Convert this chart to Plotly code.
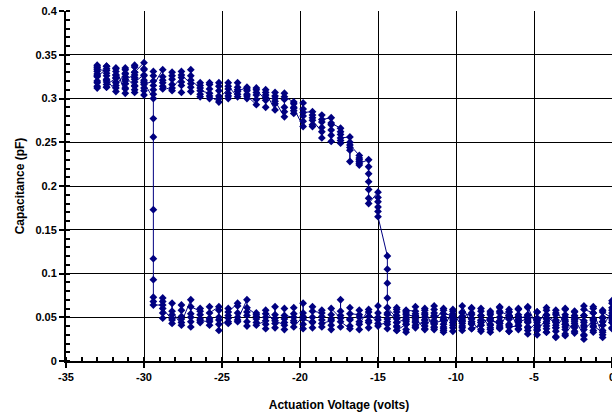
import plotly.graph_objects as go

# Sweep from 0 V down to -33 V (readings per voltage step, in fF)
down_volts = [0.0, -0.6, -1.2, -1.8, -2.4, -3.0, -3.6, -4.2, -4.8, -5.4, -6.0, -6.6, -7.2, -7.8,
              -8.4, -9.0, -9.6, -10.2, -10.8, -11.4, -12.0, -12.6, -13.2, -13.8, -14.4, -15.0,
              -15.6, -16.2, -16.8, -17.4, -18.0, -18.6, -19.2, -19.8, -20.4, -21.0, -21.6, -22.2,
              -22.8, -23.4, -24.0, -24.6, -25.2, -25.8, -26.4, -27.0, -27.6, -28.2, -28.8, -29.4,
              -30.0, -30.6, -31.2, -31.8, -32.4, -33.0]
down_cap_fF = [
    [52, 47, 61, 44, 38, 55], [41, 35, 49, 58, 45, 30], [55, 48, 39, 33, 60, 46],
    [36, 44, 52, 63, 41, 29], [48, 57, 40, 34, 52, 45], [31, 39, 50, 59, 47, 42],
    [58, 46, 38, 28, 44, 53], [43, 52, 61, 37, 33, 48], [35, 41, 49, 56, 46, 38],
    [62, 53, 45, 38, 31, 49], [44, 36, 51, 59, 47, 40], [39, 48, 56, 42, 34, 52],
    [57, 45, 37, 50, 62, 43], [46, 33, 41, 55, 49, 38], [52, 60, 44, 36, 47, 41],
    [37, 45, 53, 61, 48, 42], [63, 51, 43, 35, 46, 55], [41, 49, 57, 38, 44, 52],
    [54, 46, 39, 33, 48, 60], [45, 38, 52, 59, 42, 36], [58, 50, 43, 37, 55, 47],
    [39, 47, 54, 62, 44, 51], [53, 45, 36, 42, 57, 48], [44, 52, 59, 40, 35, 49],
    [61, 48, 42, 37, 53, 45], [40, 47, 55, 63, 50, 43], [56, 44, 38, 51, 46, 59],
    [42, 50, 58, 36, 45, 53], [54, 61, 47, 40, 48, 37], [45, 39, 52, 70, 57, 49],
    [60, 48, 41, 36, 53, 46], [43, 51, 58, 39, 47, 55], [57, 45, 38, 50, 62, 44],
    [48, 66, 55, 42, 37, 51], [39, 46, 54, 61, 44, 50], [52, 60, 44, 36, 48, 41],
    [46, 38, 53, 62, 49, 43], [58, 50, 42, 37, 54, 46], [41, 48, 55, 44, 51, 53],
    [61, 52, 45, 40, 56, 70], [47, 55, 63, 45, 50, 66], [56, 49, 43, 60, 52, 45],
    [42, 50, 58, 35, 47, 62], [55, 47, 41, 49, 62, 45], [46, 53, 60, 48, 44, 57],
    [62, 54, 45, 39, 50, 70], [44, 51, 58, 64, 48, 41], [57, 49, 43, 66, 53, 47],
    [60, 68, 55, 49, 72, 64],
    [64, 68, 73, 93, 117, 173, 256, 277, 300],
    [318, 326, 334, 309, 321, 341], [330, 315, 338, 324, 310, 327],
    [322, 333, 312, 328, 317, 306], [335, 319, 327, 312, 331, 323],
    [316, 329, 337, 321, 313, 334], [325, 338, 314, 331, 320, 336],
]

# Sweep back from -33 V up to 0 V
up_volts = [-33.0, -32.4, -31.8, -31.2, -30.6, -30.0, -29.4, -28.8, -28.2, -27.6, -27.0, -26.4,
            -25.8, -25.2, -24.6, -24.0, -23.4, -22.8, -22.2, -21.6, -21.0, -20.4, -19.8, -19.2,
            -18.6, -18.0, -17.4, -16.8, -16.2, -15.6, -15.0, -14.4, -13.8, -13.2, -12.6, -12.0,
            -11.4, -10.8, -10.2, -9.6, -9.0, -8.4, -7.8, -7.2, -6.6, -6.0, -5.4, -4.8, -4.2,
            -3.6, -3.0, -2.4, -1.8, -1.2, -0.6, 0.0]
up_cap_fF = [
    [328, 318, 335, 312, 326, 333], [332, 319, 326, 313, 337, 322],
    [308, 327, 334, 318, 324, 315], [329, 311, 320, 335, 317, 325],
    [314, 336, 322, 307, 330, 319], [327, 312, 319, 333, 304, 316],
    [320, 331, 310, 326, 305, 315], [333, 318, 325, 311, 321, 314],
    [309, 322, 330, 316, 326, 312], [324, 331, 315, 307, 319, 327],
    [317, 308, 326, 333, 313, 321], [312, 318, 305, 302, 315, 309],
    [306, 316, 300, 311, 318, 303], [296, 318, 309, 303, 314, 300],
    [311, 318, 300, 306, 303, 314], [302, 310, 318, 305, 313, 308],
    [313, 305, 300, 309, 311, 303], [293, 307, 312, 299, 304, 310],
    [298, 310, 290, 304, 301, 307], [287, 300, 307, 294, 303, 297],
    [279, 306, 290, 299, 285, 302], [296, 283, 290, 294, 286, 289],
    [268, 295, 280, 288, 274, 284], [285, 270, 278, 268, 281, 275],
    [262, 281, 255, 273, 267, 276], [278, 258, 270, 251, 264, 272],
    [266, 252, 259, 249, 262, 255], [256, 244, 250, 228, 241, 247],
    [235, 228, 232, 224, 230, 226], [230, 222, 214, 205, 196, 186, 180],
    [193, 187, 182, 176, 171, 165],
    [120, 105, 89, 72, 61, 55],
    [48, 39, 56, 44, 61, 35], [42, 55, 47, 33, 50, 58], [57, 45, 38, 52, 41, 49],
    [36, 44, 53, 60, 47, 40], [51, 63, 46, 39, 55, 43], [47, 35, 42, 50, 58, 37],
    [59, 50, 44, 34, 47, 54], [40, 48, 56, 45, 38, 51], [55, 43, 37, 60, 49, 45],
    [34, 46, 52, 41, 57, 44], [49, 57, 42, 36, 53, 47], [43, 38, 55, 61, 46, 40],
    [56, 48, 41, 34, 52, 59], [37, 45, 60, 53, 41, 48], [52, 61, 47, 39, 44, 35],
    [44, 36, 30, 49, 56, 41], [58, 49, 40, 33, 45, 53], [41, 34, 27, 47, 55, 38],
    [53, 60, 45, 36, 29, 42], [38, 47, 56, 43, 32, 50], [46, 30, 25, 39, 52, 59],
    [55, 43, 35, 48, 62, 40], [33, 41, 50, 27, 45, 56], [49, 58, 66, 44, 37, 69],
]

x_tick_vals = [-35, -30, -25, -20, -15, -10, -5, 0]
x_tick_text = ["-35", "-30", "-25", "-20", "-15", "-10", "-5", "0"]
y_tick_vals = [0, 0.05, 0.1, 0.15, 0.2, 0.25, 0.3, 0.35, 0.4]
y_tick_text = ["0", "0.05", "0.1", "0.15", "0.2", "0.25", "0.3", "0.35", "0.4"]

assert len(down_volts) == len(down_cap_fF)
assert len(up_volts) == len(up_cap_fF)

xs, ys = [], []
for volts, caps in ((down_volts, down_cap_fF), (up_volts, up_cap_fF)):
    for v, readings in zip(volts, caps):
        for c in readings:
            xs.append(v)
            ys.append(c / 1000.0)  # fF -> pF

navy = "#000080"
fig = go.Figure(go.Scatter(
    x=xs, y=ys, mode="lines+markers",
    line=dict(color=navy, width=1),
    marker=dict(symbol="diamond", size=6, color=navy),
    cliponaxis=False,
))

font = "Liberation Sans, Arial, sans-serif"
fig.update_layout(
    width=612, height=419,
    margin=dict(l=66, r=0, t=11, b=58),
    paper_bgcolor="white", plot_bgcolor="white",
    showlegend=False,
    font=dict(family=font, size=11, color="black"),
)
fig.update_xaxes(
    range=[-35, 0], tickvals=x_tick_vals, ticktext=x_tick_text,
    automargin=False, ticklabeloverflow="allow",
    showgrid=True, gridcolor="black", gridwidth=1,
    showline=True, linecolor="black", linewidth=2,
    ticks="outside", ticklen=5, tickwidth=2, tickcolor="black",
    minor=dict(dtick=1, ticks="inside", ticklen=4, tickwidth=2, tickcolor="black", showgrid=False),
    tickfont=dict(family=font, size=11, color="black", weight="bold"),
    title=dict(text="<b>Actuation Voltage (volts)</b>", font=dict(family=font, size=12), standoff=18),
    zeroline=False,
)
fig.update_yaxes(
    range=[0, 0.4], tickvals=y_tick_vals, ticktext=y_tick_text,
    automargin=False, ticklabeloverflow="allow",
    showgrid=True, gridcolor="black", gridwidth=1,
    showline=True, linecolor="black", linewidth=2,
    ticks="outside", ticklen=5, tickwidth=2, tickcolor="black",
    minor=dict(dtick=0.01, ticks="inside", ticklen=4, tickwidth=2, tickcolor="black", showgrid=False),
    tickfont=dict(family=font, size=11, color="black", weight="bold"),
    title=dict(text="<b>Capacitance (pF)</b>", font=dict(family=font, size=12), standoff=8),
    zeroline=False,
)

fig.write_html(
    "out.html",
    config={"displayModeBar": False, "staticPlot": True},
    post_script="document.body.style.margin='0';document.body.style.overflow='hidden';",
)
